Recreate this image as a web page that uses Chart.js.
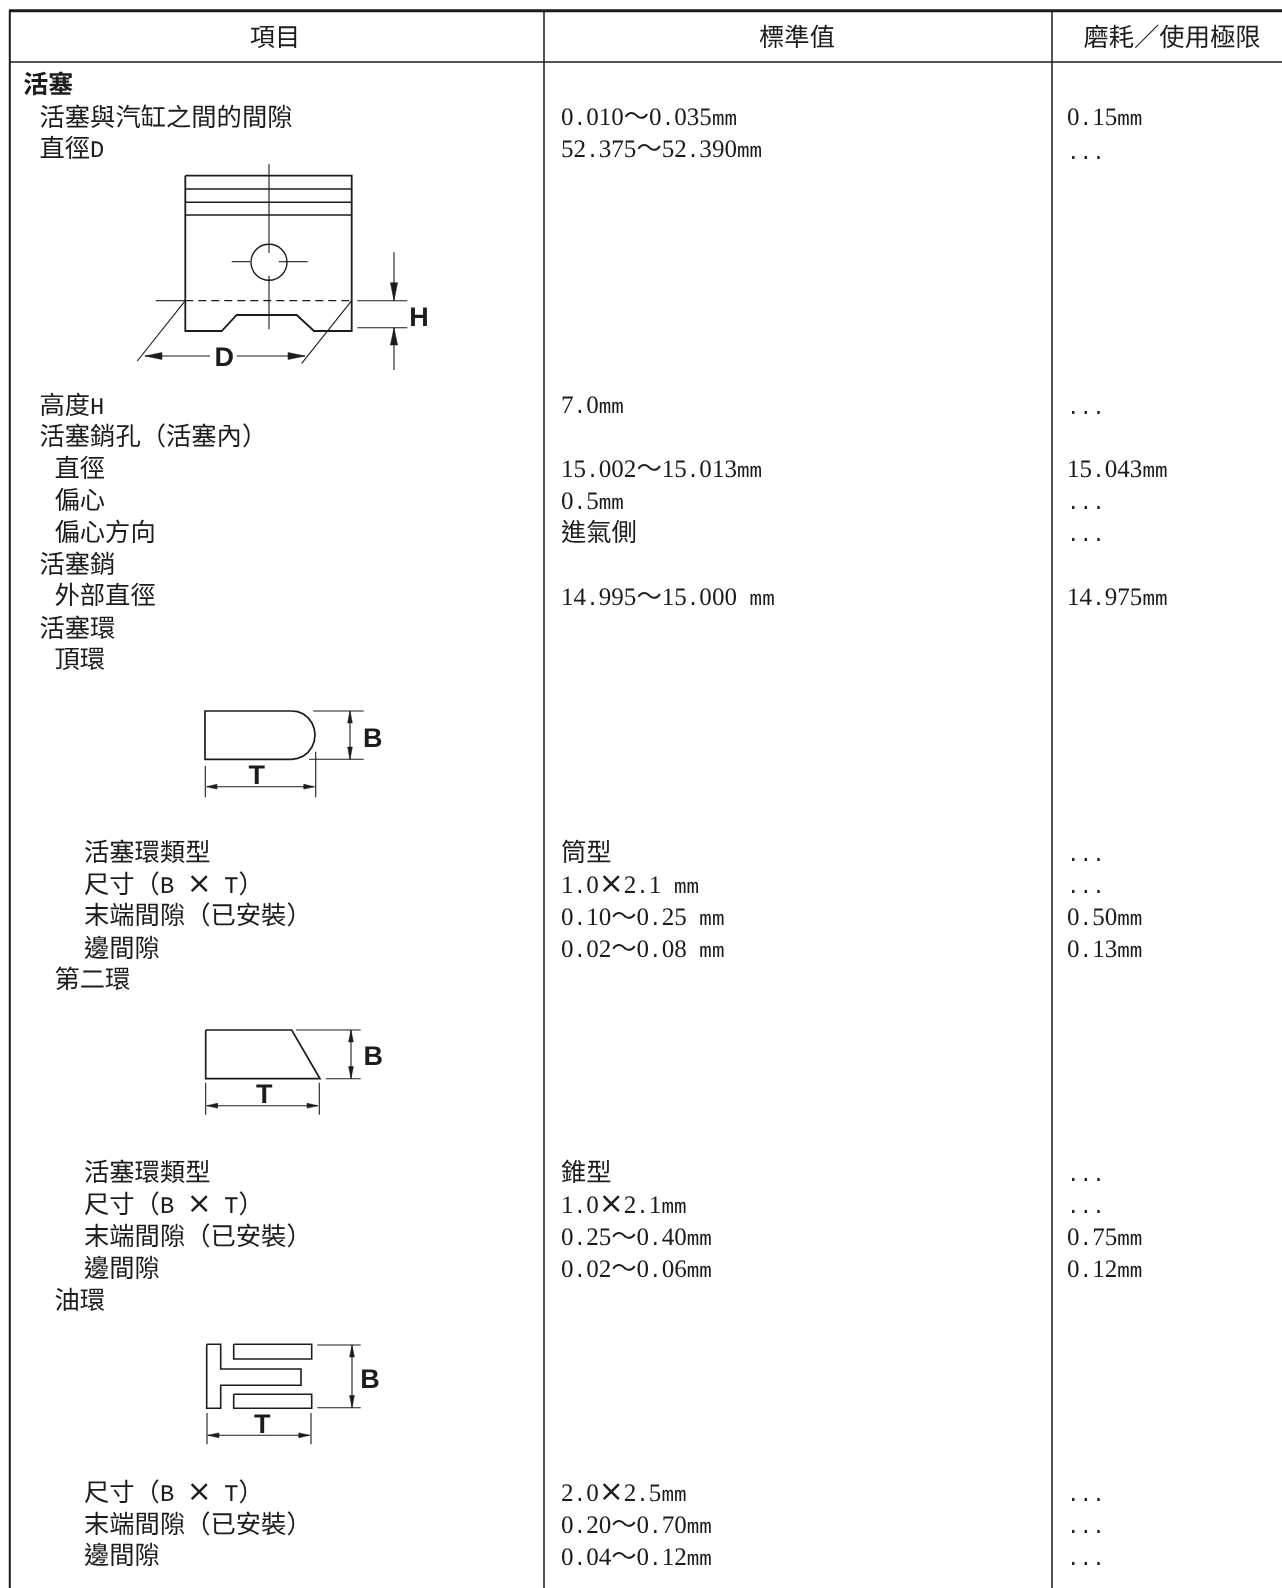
<!DOCTYPE html>
<html lang="zh-Hant">
<head>
<meta charset="utf-8">
<title>活塞規格</title>
<script src="https://cdn.jsdelivr.net/npm/chart.js@4"></script>
<style>
@font-face{font-family:"CellDigit";src:local("Liberation Serif");unicode-range:U+30-39;size-adjust:99.4%;}
@font-face{font-family:"CellLatin";src:local("Liberation Mono");unicode-range:U+20-2F,U+3A-40,U+5B-7E;size-adjust:82.8%;}
@font-face{font-family:"CellCaps";src:local("Liberation Mono");unicode-range:U+41-5A;size-adjust:94%;}
@font-face{font-family:"CellCross";src:local("DejaVu Sans");unicode-range:U+D7;size-adjust:118%;}
html,body{margin:0;padding:0;background:#fff;}
canvas{display:block;}
</style>
</head>
<body>
<canvas id="c" width="1282" height="1588"></canvas>
<script>
/* ---------- table text ---------- */
const headers = ["項目","標準值","磨耗／使用極限"];
const itemLabels = ["活塞","活塞與汽缸之間的間隙","直徑D","高度H","活塞銷孔（活塞內）","直徑","偏心","偏心方向","活塞銷","外部直徑","活塞環","頂環",
  "活塞環類型","尺寸（B × T）","末端間隙（已安裝）","邊間隙","第二環",
  "活塞環類型","尺寸（B × T）","末端間隙（已安裝）","邊間隙","油環",
  "尺寸（B × T）","末端間隙（已安裝）","邊間隙"];
const standardValues = ["0.010～0.035mm","52.375～52.390mm","7.0mm","15.002～15.013mm","0.5mm","進氣側","14.995～15.000 mm",
  "筒型","1.0×2.1 mm","0.10～0.25 mm","0.02～0.08 mm",
  "錐型","1.0×2.1mm","0.25～0.40mm","0.02～0.06mm",
  "2.0×2.5mm","0.20～0.70mm","0.04～0.12mm"];
const limitValues = ["0.15mm","...","...","15.043mm","...","...","14.975mm",
  "...","...","0.50mm","0.13mm",
  "...","...","0.75mm","0.12mm",
  "...","...","..."];
const diagramLetters = ["D","H","B","T","B","T","B","T"];

/* ---------- where the text sits on the sheet scale ---------- */
const itemRow = [84,116.5,148,405,436,468,500,532,564,595,628,659,852,884,915,948,979,1172,1204,1236,1268,1300,1492,1524,1555];
const itemColumn = [23.3,39.5,39.5,39.5,39.5,54.5,54.5,54.5,39.5,54.5,39.5,54.5,84,84,84,84,54.5,84,84,84,84,54.5,84,84,84];
const standardRow = [117.5,149.5,405.5,469.5,501.5,532.7,597,852.7,885,917,949,1172.7,1205,1237,1269,1493,1525,1557];
const limitRow = [117.5,151.5,406.5,469.5,501.5,533.5,597,853.5,885.5,917,949,1173.5,1205.5,1237,1269,1493.5,1525.5,1557.5];
const letterX = [224.3,419,372.7,256.7,373.3,264.3,370,262.3];
const letterY = [357.7,317.7,738.3,776,1057,1095,1380,1424.3];
const headerX = [275,797,1172];

/* ---------- table rules ---------- */
const ruleTop = [[9,10.8],[1282,10.8]];
const ruleHeader = [[9,62],[1282,62]];
const ruleLeft = [[9.8,10],[9.8,1588]];
const ruleCol1 = [[544,10],[544,1588]];
const ruleCol2 = [[1052,10],[1052,1588]];

/* ---------- piston drawing ---------- */
const pistonBody = [[185.3,175.7],[351.7,175.7],[351.7,331],[314,331],[296.7,315],[236.7,315],[221.7,331],[185.3,331],[185.3,175.7]];
const pistonRing1 = [[185.3,189],[351.7,189]];
const pistonRing2 = [[185.3,202.3],[351.7,202.3]];
const pistonRing3 = [[185.3,215],[351.7,215]];
const pistonAxisA = [[269,164],[269,253]];
const pistonAxisB = [[269,275.7],[269,329.3]];
const pinHole = [[269,262.3]];
const pinAxisA = [[231.7,261.7],[250,261.7]];
const pinAxisB = [[278.7,261.7],[307.7,261.7]];
const heightDashed = [[185.3,300.7],[351.7,300.7]];
const heightExtL = [[155.7,300.7],[185.3,300.7]];
const heightExtR = [[357.3,300.7],[407.3,300.7]];
const heightExtB = [[357.3,327.7],[407.3,327.7]];
const heightDimA = [[394,252.3],[394,300.7]];
const heightDimB = [[394,327.7],[394,370]];
const heightArrowA = [[394,300.7],[390.4,282.7],[397.6,282.7],[394,300.7]];
const heightArrowB = [[394,327.7],[390.4,345],[397.6,345],[394,327.7]];
const diaLeft = [[185.3,300.7],[137.3,361]];
const diaRight = [[351.7,300.7],[301.7,363.3]];
const diaDimA = [[145,356],[210,356]];
const diaDimB = [[236.7,356],[305,356]];
const diaArrowA = [[145,356],[161.7,352.6],[161.7,359.4],[145,356]];
const diaArrowB = [[305,356],[288.3,352.6],[288.3,359.4],[305,356]];

/* ---------- top ring drawing ---------- */
const topRing = [[291.7,711],[297.7,711.6],[303.4,714],[308.2,717.9],[311.9,722.9],[314.2,728.7],[315,735],[314.2,741.3],[311.9,747.1],[308.2,752.1],[303.4,756],[297.7,758.4],[291.7,759.3],[205,759.3],[205,711],[291.7,711]];
const topExtA = [[313.3,711],[363.7,711]];
const topExtB = [[309,759.3],[363.7,759.3]];
const topDimB = [[350,711],[350,759.3]];
const topArrowA = [[350,711],[347.6,723],[352.4,723],[350,711]];
const topArrowB = [[350,759.3],[347.6,747],[352.4,747],[350,759.3]];
const topExtL = [[205.3,766],[205.3,797.3]];
const topExtR = [[315.7,751.7],[315.7,797.3]];
const topDimT = [[206.7,786.7],[314.3,786.7]];
const topArrowC = [[206.7,786.7],[216.7,784.3],[216.7,789.1],[206.7,786.7]];
const topArrowD = [[314.3,786.7],[304,784.3],[304,789.1],[314.3,786.7]];

/* ---------- second ring drawing ---------- */
const secondRing = [[205.7,1030],[291.7,1030],[320,1078.7],[205.7,1078.7],[205.7,1030]];
const secondExtA = [[296,1030],[360.7,1030]];
const secondExtB = [[325.7,1078.7],[360.7,1078.7]];
const secondDimB = [[351,1030],[351,1078.7]];
const secondArrowA = [[351,1030],[348.6,1042],[353.4,1042],[351,1030]];
const secondArrowB = [[351,1078.7],[348.6,1066.5],[353.4,1066.5],[351,1078.7]];
const secondExtL = [[205.7,1082.7],[205.7,1114.7]];
const secondExtR = [[319.3,1082.7],[319.3,1114.7]];
const secondDimT = [[206.7,1105.7],[318,1105.7]];
const secondArrowC = [[206.7,1105.7],[217.3,1103.3],[217.3,1108.1],[206.7,1105.7]];
const secondArrowD = [[318,1105.7],[307.3,1103.3],[307.3,1108.1],[318,1105.7]];

/* ---------- oil ring drawing ---------- */
const oilCore = [[206.7,1344.3],[220.7,1344.3],[220.7,1369],[301,1369],[301,1385.3],[220.7,1385.3],[220.7,1408.3],[206.7,1408.3],[206.7,1344.3]];
const oilRailA = [[233.7,1344.3],[311.7,1344.3],[311.7,1359],[233.7,1359],[233.7,1344.3]];
const oilRailB = [[233.7,1394.3],[311.7,1394.3],[311.7,1408.3],[233.7,1408.3],[233.7,1394.3]];
const oilExtA = [[317.3,1345],[360.7,1345]];
const oilExtB = [[317.3,1407.7],[360.7,1407.7]];
const oilDimB = [[352,1345],[352,1407.7]];
const oilArrowA = [[352,1345],[349.6,1357],[354.4,1357],[352,1345]];
const oilArrowB = [[352,1407.7],[349.6,1395.5],[354.4,1395.5],[352,1407.7]];
const oilExtL = [[207,1413],[207,1444.3]];
const oilExtR = [[311,1413],[311,1444.3]];
const oilDimT = [[207.7,1435.3],[309.7,1435.3]];
const oilArrowC = [[207.7,1435.3],[218.7,1432.9],[218.7,1437.7],[207.7,1435.3]];
const oilArrowD = [[309.7,1435.3],[299,1432.9],[299,1437.7],[309.7,1435.3]];

/* ---------- styling ---------- */
const INK = "#1c1c1c";
const SHEET_W = 1282, SHEET_H = 1588;
const CJK = '"Noto Sans CJK TC"';
const BODY_FONT = '25.3px "CellDigit","CellLatin","CellCaps","CellCross",' + CJK;
const BOLD_FONT = '700 25px "Liberation Sans",' + CJK;
const LETTER_FONT = '700 27px "Liberation Sans"';

const pts = a => a.map(([x,y]) => ({x,y}));
const stroke = (a,w=1.4,extra={}) => Object.assign({data:pts(a),showLine:true,borderColor:INK,borderWidth:w,pointRadius:0,fill:false,tension:0,borderJoinStyle:"miter",borderCapStyle:"butt"},extra);
const arrow = a => ({data:pts(a),showLine:true,borderColor:INK,borderWidth:0.5,backgroundColor:INK,pointRadius:0,fill:"shape",tension:0});

const datasets = [
  stroke(ruleTop,3), stroke(ruleHeader,1.6), stroke(ruleLeft,2), stroke(ruleCol1,1.5), stroke(ruleCol2,1.5),
  stroke(pistonBody,1.8), stroke(pistonRing1), stroke(pistonRing2), stroke(pistonRing3),
  stroke(pistonAxisA,1.1), stroke(pistonAxisB,1.1), stroke(pinAxisA,1.1), stroke(pinAxisB,1.1),
  {data:pts(pinHole),showLine:false,pointRadius:18,pointBorderWidth:1.4,pointBorderColor:INK,pointBackgroundColor:"rgba(0,0,0,0)"},
  stroke(heightDashed,1.2,{borderDash:[8,5]}), stroke(heightExtL,1.1), stroke(heightExtR,1.1), stroke(heightExtB,1.1),
  stroke(heightDimA,1.1), stroke(heightDimB,1.1), arrow(heightArrowA), arrow(heightArrowB),
  stroke(diaLeft,1.1), stroke(diaRight,1.1), stroke(diaDimA,1.1), stroke(diaDimB,1.1), arrow(diaArrowA), arrow(diaArrowB),
  stroke(topRing,1.7), stroke(topExtA,1.1), stroke(topExtB,1.1), stroke(topDimB,1.1), arrow(topArrowA), arrow(topArrowB),
  stroke(topExtL,1.1), stroke(topExtR,1.1), stroke(topDimT,1.1), arrow(topArrowC), arrow(topArrowD),
  stroke(secondRing,1.7), stroke(secondExtA,1.1), stroke(secondExtB,1.1), stroke(secondDimB,1.1), arrow(secondArrowA), arrow(secondArrowB),
  stroke(secondExtL,1.1), stroke(secondExtR,1.1), stroke(secondDimT,1.1), arrow(secondArrowC), arrow(secondArrowD),
  stroke(oilCore,1.6), stroke(oilRailA,1.6), stroke(oilRailB,1.6), stroke(oilExtA,1.1), stroke(oilExtB,1.1), stroke(oilDimB,1.1), arrow(oilArrowA), arrow(oilArrowB),
  stroke(oilExtL,1.1), stroke(oilExtR,1.1), stroke(oilDimT,1.1), arrow(oilArrowC), arrow(oilArrowD)
];

const sheetText = {
  id:"sheetText",
  afterDatasetsDraw(chart){
    const {ctx,scales:{x,y}} = chart;
    const put = (s,px,py,font,align="left",base="alphabetic") => {
      ctx.font = font; ctx.textAlign = align; ctx.textBaseline = base; ctx.fillStyle = INK;
      ctx.fillText(s,x.getPixelForValue(px),y.getPixelForValue(py));
    };
    ctx.save();
    ctx.textRendering = "geometricPrecision";
    headers.forEach((s,i) => put(s,headerX[i],36.5+9,BODY_FONT,"center"));
    itemLabels.forEach((s,i) => put(s,itemColumn[i],itemRow[i]+9,i===0?BOLD_FONT:BODY_FONT));
    standardValues.forEach((s,i) => put(s,561,standardRow[i]+7.8,BODY_FONT));
    limitValues.forEach((s,i) => put(s,1067,limitRow[i]+7.8,BODY_FONT));
    diagramLetters.forEach((s,i) => put(s,letterX[i],letterY[i]+1,LETTER_FONT,"center","middle"));
    ctx.restore();
  }
};

const sheetPaper = {
  id:"sheetPaper",
  beforeDraw(chart){ const c = chart.ctx; c.save(); c.fillStyle="#fff"; c.fillRect(0,0,chart.width,chart.height); c.restore(); }
};

function build(){
  new Chart(document.getElementById("c"),{
    type:"scatter",
    data:{datasets},
    options:{
      responsive:false,animation:false,devicePixelRatio:1,
      layout:{padding:0,autoPadding:false},
      clip:false,
      plugins:{legend:{display:false},tooltip:{enabled:false},title:{display:false}},
      scales:{
        x:{type:"linear",min:0,max:SHEET_W,display:false},
        y:{type:"linear",min:0,max:SHEET_H,reverse:true,display:false}
      }
    },
    plugins:[sheetPaper,sheetText]
  });
}
Promise.all([
  document.fonts.load('25px "CellDigit"',"0"),
  document.fonts.load('25px "CellLatin"',"m"),
  document.fonts.load('25px "CellCaps"',"B"),
  document.fonts.load('25px "CellCross"',"×")
]).then(build,build);
</script>
</body>
</html>
